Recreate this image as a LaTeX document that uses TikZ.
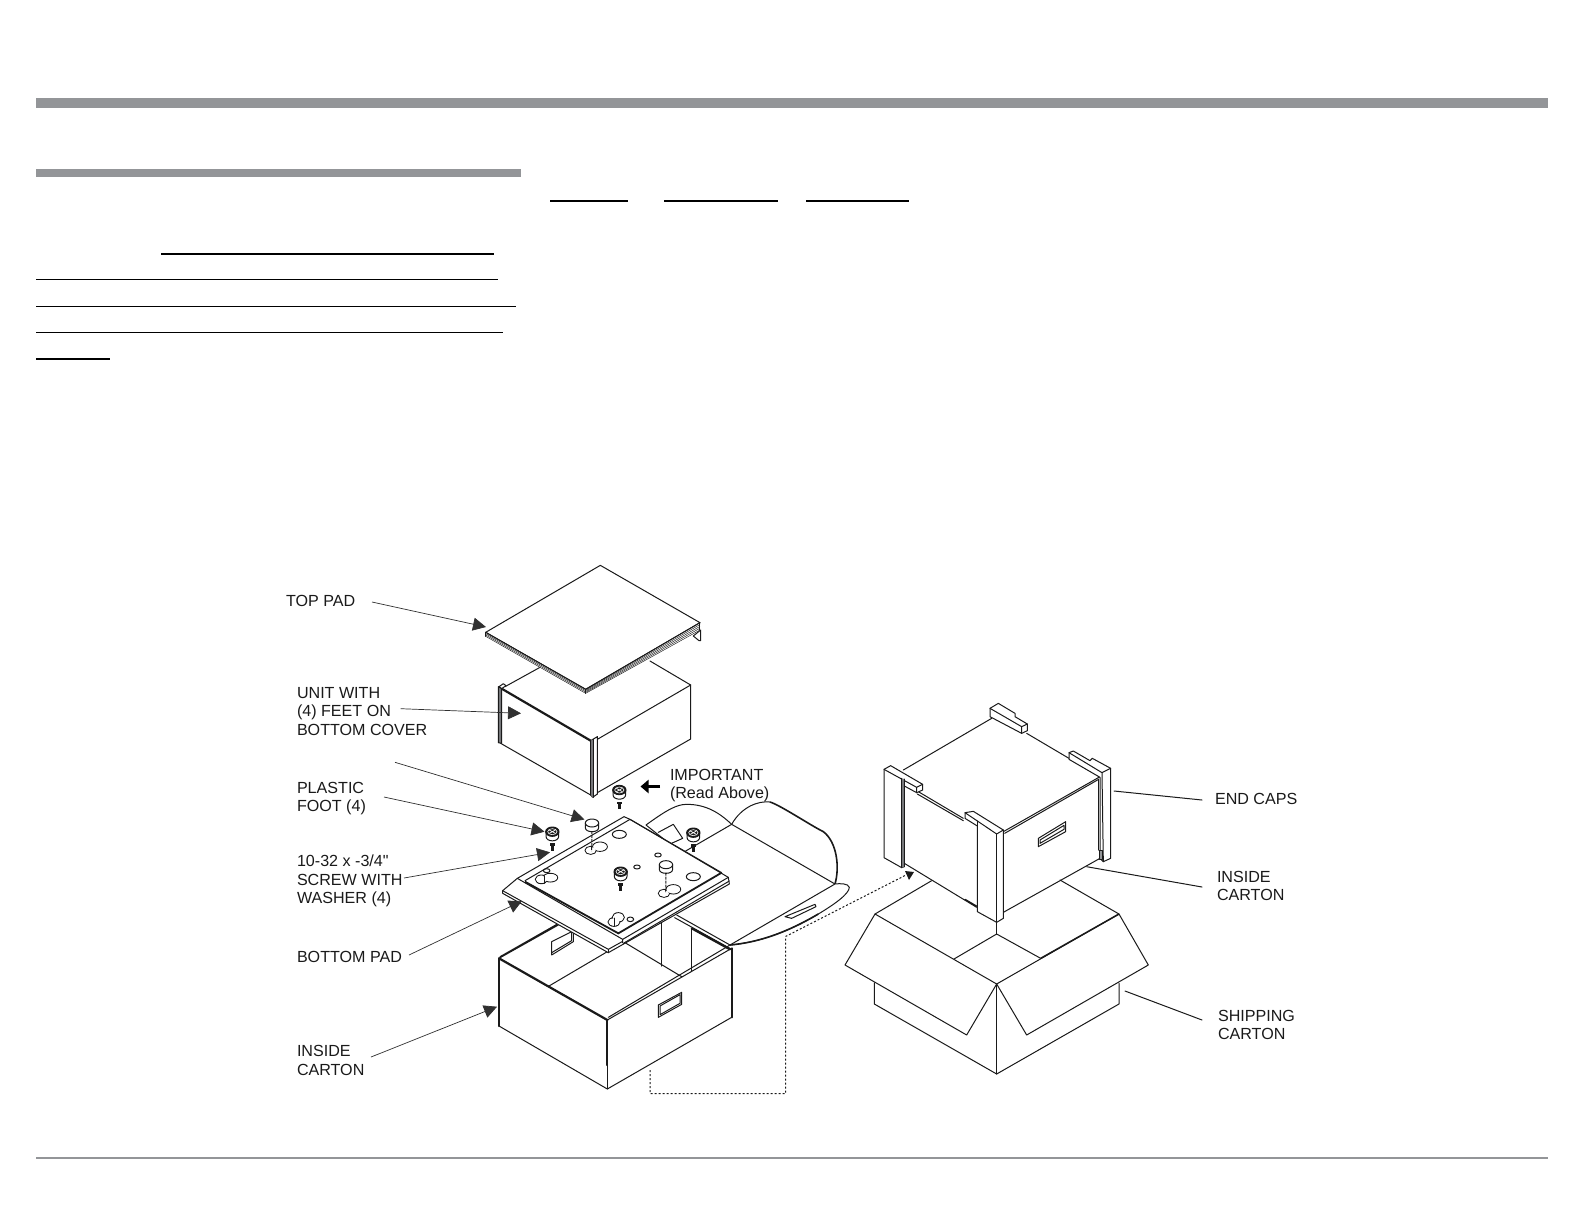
\documentclass[tikz,border=0pt]{standalone}
\usepackage{fontspec}
\setmainfont[Ligatures=TeXOff]{Liberation Sans}
\usetikzlibrary{arrows.meta}
\definecolor{barg}{HTML}{939598}
\definecolor{inkk}{HTML}{1A1A1A}
\definecolor{leadc}{HTML}{303030}
\tikzset{
  ln/.style={line width=1bp,draw=inkk,line join=round,line cap=round},
  thk/.style={line width=2.2bp,draw=inkk,line cap=round},
  thn/.style={line width=.45bp,draw=inkk},
  lbl/.style={anchor=base west,inner sep=0pt,outer sep=0pt,text=inkk,font=\fontsize{16.1bp}{18.3bp}\selectfont},
  lead/.style={line width=.7bp,draw=leadc},
  leadar/.style={lead,-{Triangle[length=13bp,width=13bp,fill=leadc]}},
  ulin/.style={line width=1.5bp,draw=black},
  dots/.style={line width=1bp,draw=inkk,dash pattern=on 2bp off 2bp},
  za/.style={shift={(480,550)},x=.33333bp,y=-.33333bp},
  zb/.style={shift={(490,770)},x=.33333bp,y=-.33333bp},
  zc/.style={shift={(860,690)},x=.33333bp,y=-.33333bp},
  zd/.style={shift={(830,860)},x=.33333bp,y=-.33333bp}
}
\newcommand{\screwfoot}[2]{%
  \begin{scope}[shift={(#1,#2)}]
    \draw[ln,fill=white] (-19,-2) -- (-19,12) .. controls (-19,30) and (19,30) .. (19,12) -- (19,-2);
    \draw[ln,fill=inkk] (0,-2) ellipse [x radius=20,y radius=14];
    \draw[line width=.7bp,white] (-9,-7) -- (9,3) (-9,3) -- (9,-7);
    \draw[line width=.6bp,white] (0,-2) ellipse [x radius=14,y radius=9];
    \fill[inkk] (-7,33) rectangle (7,40);
    \fill[inkk] (-4,38) rectangle (4,55);
  \end{scope}}
\newcommand{\plainfoot}[4]{%
  \draw[ln,fill=white] (#1-20,#2-6) -- (#1-20,#2+8) .. controls (#1-20,#2+24) and (#1+20,#2+24) .. (#1+20,#2+8) -- (#1+20,#2-6);
  \draw[ln,fill=white] (#1,#2-6) ellipse [x radius=20,y radius=12];
  \draw[line width=1bp,draw=inkk,dash pattern=on 3bp off 1bp] (#1,#2+18) -- (#3,#4);}
\newcommand{\keyhole}[8]{%
  \draw[ln,fill=white] (#1,#2) ellipse [x radius=#3,y radius=#4];
  \draw[ln,fill=white] (#5,#6) ellipse [x radius=#7,y radius=#8];
  \fill[white] (#1,#2) ellipse [x radius=#3-2,y radius=#4-2];
  \fill[white] (#5,#6) ellipse [x radius=#7-2,y radius=#8-2];}
\begin{document}
\begin{tikzpicture}[x=1bp,y=-1bp]
\useasboundingbox (0,0) rectangle (1584,1224);
\fill[white] (0,0) rectangle (1584,1224);
% page rules
\fill[barg] (36,98) rectangle (1548,108);
\fill[barg] (36,169) rectangle (521,177);
\draw[line width=2bp,draw=barg] (36,1158) -- (1548,1158);
\draw[ulin] (550,201) -- (628,201);
\draw[ulin] (664,201) -- (778,201);
\draw[ulin] (806,201) -- (909,201);
\draw[ulin] (161,254) -- (494,254);
\draw[ulin] (36,279.5) -- (498,279.5);
\draw[ulin] (36,306.5) -- (516,306.5);
\draw[ulin] (36,332.5) -- (503,332.5);
\draw[ulin] (36,359) -- (110,359);

% ---- top pad and unit
\begin{scope}[za]
  \draw[ln] (75,410) -- (180,352);
  \draw[ln] (510,333) -- (632,405) -- (632,567) -- (352,728);
  \draw[ln] (352,568) -- (632,405);
  \draw[thk] (65,416) -- (332,572);
  \draw[ln] (62,580) -- (332,735);
  \draw[ln,fill=white] (57,410) -- (70,401) -- (78,407) -- (65,416) -- cycle;
  \draw[ln,fill=barg!80!black] (55,410) -- (65,416) -- (65,580) -- (55,578) -- cycle;
  \draw[ln,fill=white] (332,572) -- (352,560) -- (352,732) -- (338,742) -- (332,735) -- cycle;
  \fill[barg!80!black] (332,572) -- (340,568) -- (340,742) -- (332,735) -- cycle;
  \draw[ln] (332,572) -- (332,735) (340,568) -- (340,742) (352,560) -- (352,732);
  \draw[ln,fill=white] (640,258) -- (657,272) -- (662,272) -- (662,240) -- cycle;
  \draw[ln,fill=white] (17,247) -- (361,46) -- (660,218) -- (317,418) -- cycle;
  \fill[white] (17,247) -- (317,418) -- (660,218) -- (660,240) -- (317,431) -- (17,258) -- cycle;
  \foreach \k in {0,4,8,12}{\draw[thn] (17,247+\k) -- (317,418+\k);}
  \foreach \k in {0,1,2,3,4}{\draw[thn] (317,418+3*\k) -- (660,218+5.5*\k);}
  \draw[ln] (17,247) -- (17,259) (317,418) -- (317,430) (660,218) -- (660,240);
  \draw[ln] (17,247) -- (317,418) -- (660,218);
\end{scope}

% ---- inside carton
\begin{scope}[zb]
  \draw[thk] (27,565) -- (352,750);
  \draw[thk] (27,565) -- (27,768);
  \draw[thk] (352,750) -- (352,885);
  \draw[ln] (352,885) -- (352,957);
  \draw[ln] (27,768) -- (352,957) -- (725,742);
  \draw[thk] (725,535) -- (725,742);
  \draw[ln] (352,750) -- (725,535) (355,742) -- (720,525);
  \draw[ln] (560,435) -- (720,525) (554,443) -- (725,538);
  \draw[ln] (27,565) -- (205,465) (30,560) -- (202,462);
  \draw[ln] (177,648) -- (352,545);
  \draw[ln] (400,515) -- (575,620);
  \draw[ln] (515,458) -- (515,588);
  \draw[ln] (605,475) -- (605,605);
  \draw[thk] (605,475) -- (720,538);
  \draw[ln] (185,515) -- (245,485) -- (250,485) -- (250,515) -- (185,555) -- cycle;
  \draw[ln] (245,485) -- (245,512) -- (185,548);
  \draw[ln] (505,705) -- (575,667) -- (575,703) -- (505,742) -- cycle;
  \draw[ln] (510,708) -- (570,674) -- (570,700) -- (510,734) -- cycle;
  % flaps
  \draw[ln,fill=white] (468,165) .. controls (530,120) and (560,103) .. (590,103) .. controls (650,103) and (690,130) .. (725,163) -- (575,250) -- cycle;
  \draw[ln] (505,187) -- (550,163) -- (578,205) -- (540,222);
  \draw[ln,fill=white] (725,163) .. controls (755,110) and (805,92) .. (840,96);
  \draw[line width=1.6bp,draw=inkk] (840,96) .. controls (870,105) and (960,165) .. (1000,185) .. controls (1040,215) and (1050,290) .. (1035,342);
  \draw[ln] (725,163) -- (1035,342);
  \draw[ln,fill=white] (720,525) -- (1035,342) .. controls (1050,340) and (1075,340) .. (1078,352) .. controls (1078,372) and (1030,405) .. (985,432) .. controls (920,470) and (830,515) .. (720,525) -- cycle;
  \draw[line width=1.6bp,draw=inkk] (720,525) .. controls (830,515) and (920,470) .. (985,432);
  \draw[ln] (885,440) -- (975,403) -- (978,410) -- (905,445) -- cycle;
  % bottom pad
  \draw[ln,fill=white] (38,362) -- (82,325) -- (402,140) -- (420,148) -- (715,322) -- (718,342) -- (355,548) -- (38,370) -- cycle;
  \draw[ln] (38,362) -- (355,538) -- (398,514);
  \draw[ln] (355,538) -- (355,548);
  \draw[ln] (398,508) -- (715,322) (398,508) -- (398,518);
  \draw[ln] (400,520) -- (718,333);
  \draw[ln] (82,325) -- (398,508);
  \draw[line width=1.8bp,draw=inkk] (105,335) -- (385,490) -- (695,308);
  \draw[ln] (105,332) -- (420,148) -- (695,308);
  % holes
  \draw[ln] (388,193) ellipse [x radius=21,y radius=12];
  \draw[ln] (610,320) ellipse [x radius=21,y radius=12];
  \draw[ln] (441,291) ellipse [x radius=10,y radius=6];
  \draw[ln] (504,255) ellipse [x radius=10,y radius=6];
  \draw[ln] (170,302) ellipse [x radius=10,y radius=6];
  \draw[ln] (421,448) ellipse [x radius=10,y radius=7];
  \keyhole{302}{241}{17}{12}{330}{230}{22}{14}
  \keyhole{154}{328}{18}{13}{181}{323}{22}{13}
  \keyhole{522}{370}{17}{12}{550}{358}{22}{14}
  \keyhole{372}{456}{18}{13}{385}{442}{18}{14}
  \draw[ln] (163,318) -- (163,340) (372,444) -- (372,468);
  % feet
  \plainfoot{306}{165}{305}{243}
  \plainfoot{528}{290}{527}{368}
  \screwfoot{388}{62}
  \screwfoot{187}{187}
  \screwfoot{610}{190}
  \screwfoot{392}{307}
\end{scope}

% ---- shipping carton
\begin{scope}[zd]
  \draw[ln] (135,162) -- (305,62) (867,162) -- (690,60);
  \draw[ln] (372,297) -- (500,222) -- (632,295);
  \draw[ln] (500,222) -- (500,190);
  \draw[ln] (133,368) -- (133,432) -- (500,642) -- (867,432) -- (867,370);
  \draw[ln] (500,372) -- (500,642);
  \draw[ln,fill=white] (135,162) -- (500,372) -- (410,525) -- (45,315) -- cycle;
  \draw[ln,fill=white] (500,372) -- (867,162) -- (955,315) -- (590,525) -- cycle;
  \draw[line width=1.5bp,draw=inkk] (632,295) -- (867,162);
\end{scope}

% ---- box with end caps
\begin{scope}[zc]
  \draw[ln] (130,240) -- (395,85);
  \draw[ln] (500,130) -- (720,260);
  \draw[ln] (430,425) -- (720,260) (434,430) -- (716,268);
  \draw[ln] (175,305) -- (310,385) (172,312) -- (310,392);
  \draw[ln] (133,520) -- (350,652) (316,628) -- (350,648);
  \draw[ln] (430,667) -- (720,505);
  \draw[ln] (133,295) -- (133,525);
  \draw[ln] (535,445) -- (617,395) -- (617,425) -- (535,470) -- cycle;
  \draw[ln] (540,450) -- (612,406) -- (612,418) -- (540,460) -- cycle;
  % back cap
  \draw[ln,fill=white] (390,55) -- (415,40) -- (465,70) -- (465,80) -- (502,102) -- (502,122) -- (485,130) -- (390,80) -- cycle;
  \draw[ln] (390,55) -- (485,110) -- (502,102) (485,110) -- (485,130);
  % right cap
  \draw[ln,fill=white] (627,188) -- (640,183) -- (690,212) -- (697,205) -- (752,235) -- (752,505) -- (730,515) -- (720,505) -- (720,262) -- (627,208) -- cycle;
  \draw[ln] (627,188) -- (726,248) -- (752,235) (726,248) -- (730,515);
  \draw[ln] (716,268) -- (716,480);
  \fill[barg] (717,480) rectangle (726,508);
  \draw[ln] (717,480) rectangle (726,508);
  % left cap
  \draw[ln,fill=white] (72,238) -- (92,227) -- (188,283) -- (188,300) -- (170,308) -- (133,288) -- (133,530) -- (125,533) -- (72,503) -- cycle;
  \draw[ln] (72,238) -- (170,292) -- (188,283) (170,292) -- (170,308);
  \fill[barg!80!black] (125,265) -- (133,267) -- (133,530) -- (125,533) -- cycle;
  \draw[ln] (125,265) -- (125,533) (133,267) -- (133,530);
  % front cap
  \draw[ln,fill=white] (315,368) -- (340,364) -- (430,420) -- (430,685) -- (410,697) -- (352,665) -- (352,408) -- (315,385) -- cycle;
  \draw[ln] (315,368) -- (410,432) -- (430,420);
  \draw[ln] (352,393) -- (352,408);
  \draw[ln] (410,432) -- (410,697);
  \draw[ln] (410,697) -- (410,722);
\end{scope}

% ---- dotted path
\coordinate (dotA) at (650,1070);
\coordinate (dotB) at (650,1093.5);
\coordinate (dotC) at (785.5,1093.5);
\coordinate (dotD) at (785.5,936.5);
\coordinate (dotE) at (906,875);
\draw[dots] (dotA) -- (dotB) -- (dotC) -- (dotD) -- (dotE);
\fill[inkk] (905,871) -- (914,872) -- (909,880) -- cycle;

% ---- labels
\node[lbl] (ltop) at (286,606) {TOP PAD};
\node[lbl] (lunit1) at (297,698.5) {UNIT WITH};
\node[lbl] (lunit2) at (297,716.7) {(4) FEET ON};
\node[lbl] (lunit3) at (297,735) {BOTTOM COVER};
\node[lbl] (lfoot1) at (297,793.3) {PLASTIC};
\node[lbl] (lfoot2) at (297,811) {FOOT (4)};
\node[lbl] (lscr1) at (297,866.7) {10-32 x -3/4"};
\node[lbl] (lscr2) at (297,885) {SCREW WITH};
\node[lbl] (lscr3) at (297,903) {WASHER (4)};
\node[lbl] (lbot) at (297,962.7) {BOTTOM PAD};
\node[lbl] (lin1) at (297,1056.7) {INSIDE};
\node[lbl] (lin2) at (297,1075) {CARTON};
\node[lbl] (limp1) at (670,780.7) {IMPORTANT};
\node[lbl] (limp2) at (670,798) {(Read Above)};
\node[lbl] (lcap) at (1215,804) {END CAPS};
\node[lbl] (lir1) at (1217,882) {INSIDE};
\node[lbl] (lir2) at (1217,900) {CARTON};
\node[lbl] (lsh1) at (1218,1021.5) {SHIPPING};
\node[lbl] (lsh2) at (1218,1039) {CARTON};

% ---- leaders
\coordinate (a1) at (372,602);   \coordinate (b1) at (486,627);
\coordinate (a2) at (400.7,708.7); \coordinate (b2) at (521,713.3);
\coordinate (a3) at (395,762.3); \coordinate (b3) at (584.5,819.5);
\coordinate (a4) at (384,797);   \coordinate (b4) at (544.5,831.7);
\coordinate (a5) at (404,878);   \coordinate (b5) at (550,852.3);
\coordinate (a6) at (409,955);   \coordinate (b6) at (522,901);
\coordinate (a7) at (371,1057);  \coordinate (b7) at (497,1006.7);
\coordinate (a8) at (1114,791);  \coordinate (b8) at (1202,800);
\coordinate (a9) at (1086.7,866.7); \coordinate (b9) at (1202,887);
\coordinate (a10) at (1125,991); \coordinate (b10) at (1202,1020);
\draw[leadar] (a1) -- (b1);
\draw[leadar] (a2) -- (b2);
\draw[leadar] (a3) -- (b3);
\draw[leadar] (a4) -- (b4);
\draw[leadar] (a5) -- (b5);
\draw[leadar] (a6) -- (b6);
\draw[leadar] (a7) -- (b7);
\draw[ln] (a8) -- (b8);
\draw[ln] (a9) -- (b9);
\draw[ln] (a10) -- (b10);
\coordinate (ia) at (660,786.5);
\coordinate (ib) at (640.5,786.5);
\draw[line width=3.4bp,draw=black,-{Triangle[length=8bp,width=13bp,fill=black]}] (ia) -- (ib);
\end{tikzpicture}
\end{document}
